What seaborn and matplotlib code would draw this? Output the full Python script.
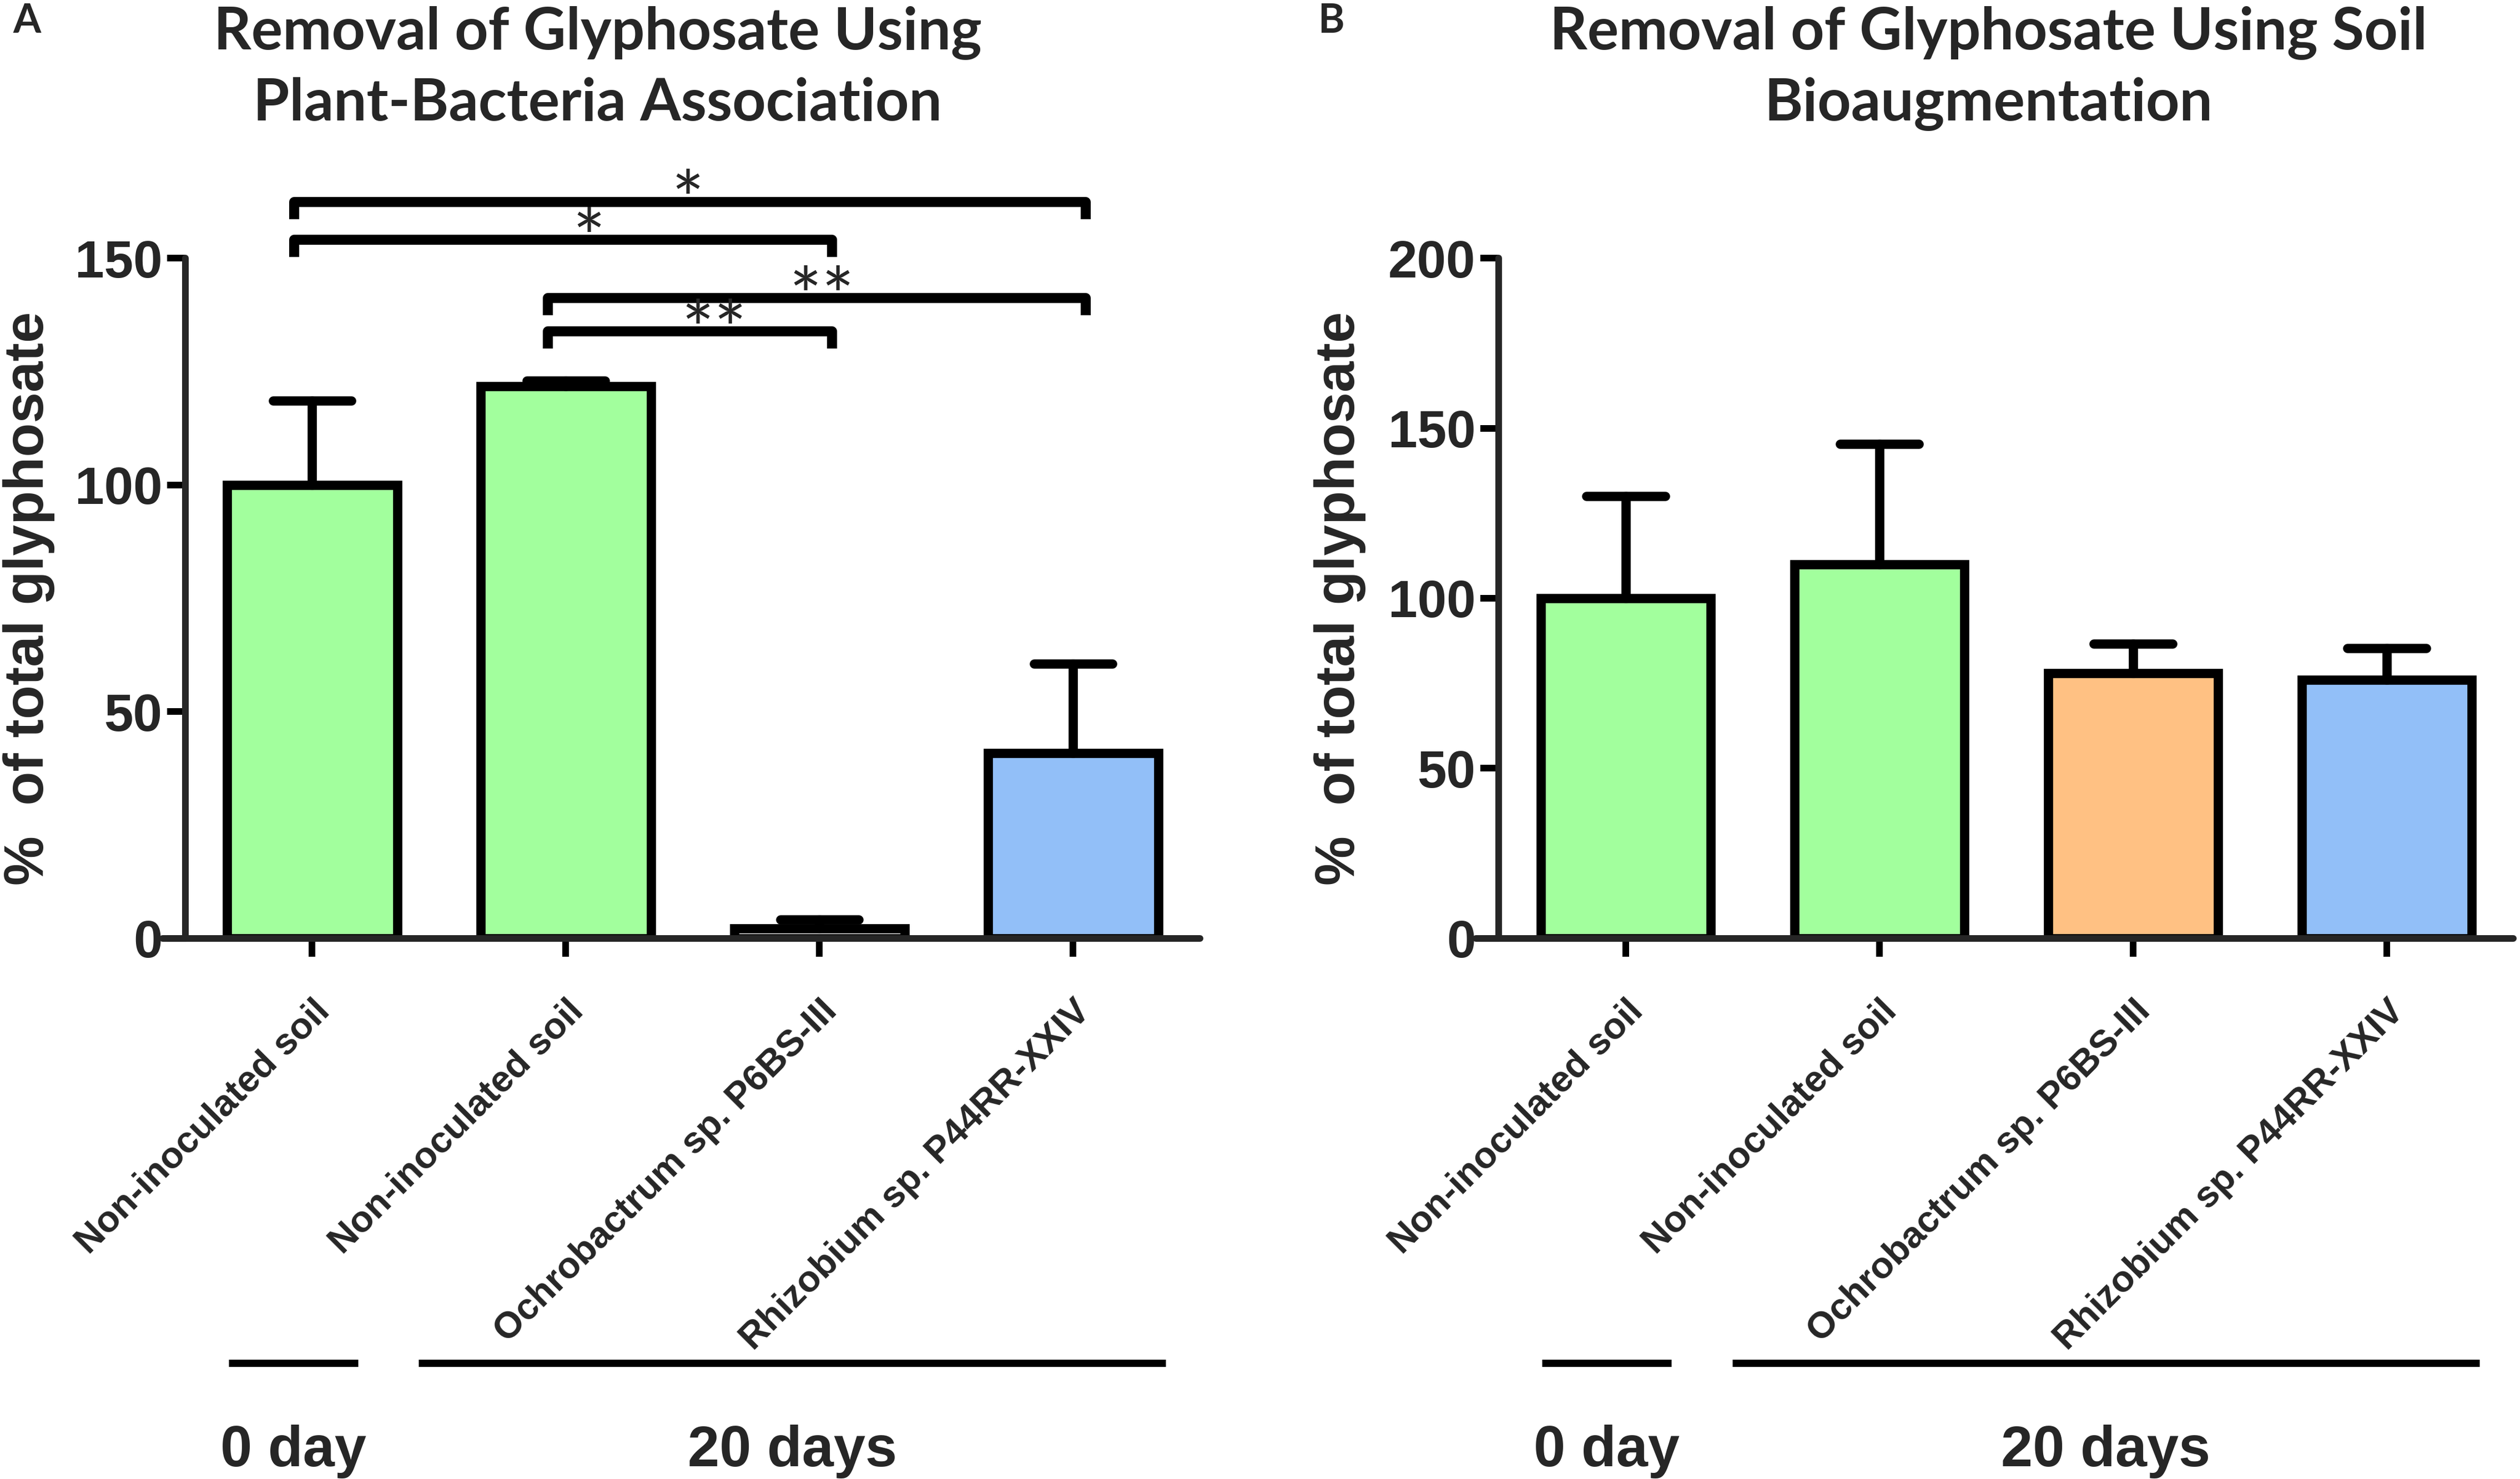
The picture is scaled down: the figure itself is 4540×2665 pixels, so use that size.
import numpy as np
import pandas as pd
import seaborn as sns
import matplotlib.pyplot as plt
import matplotlib.transforms as mtransforms

# data
labels = ["Non-inoculated soil", "Non-inoculated soil",
          "Ochrobactrum sp. P6BS-III", "Rhizobium sp. P44RR-XXIV"]

plant_mean = [100.0, 121.8, 2.2, 40.9]
plant_err = [18.6, 1.2, 2.0, 19.6]
plant_colors = ["#A2FF9D", "#A2FF9D", "#FFFFFF", "#92BFF8"]

soil_mean = [100.0, 110.0, 78.0, 76.0]
soil_err = [30.0, 35.4, 8.6, 9.3]
soil_colors = ["#A2FF9D", "#A2FF9D", "#FFC183", "#92BFF8"]

# significance brackets (panel A), bar indices
bracket_left = [0, 0, 1, 1]
bracket_right = [3, 2, 3, 2]
bracket_y = [162.4, 154.0, 141.2, 133.8]
bracket_text = ["*", "*", "**", "**"]
star_x = [1.48, 1.09, 2.01, 1.585]

# time groups under the x axis (in bar units)
group_names = ["0 day", "20 days"]
group_start = [-0.33, 0.42]
group_end = [0.18, 3.365]

titles = ["Removal of Glyphosate Using\nPlant-Bacteria Association",
          "Removal of Glyphosate Using Soil\nBioaugmentation"]

sns.set_theme(style="ticks")
plt.rcParams["font.family"] = ["Liberation Sans", "DejaVu Sans"]

fig = plt.figure(figsize=(22.7, 13.325), dpi=200)
axA = fig.add_axes([0.0645, 0.3655, 0.4117, 0.46])
axB = fig.add_axes([0.5857, 0.3655, 0.4117, 0.46])

LW = 6
label_shift = mtransforms.ScaledTranslation(-8 / 72, 0, fig.dpi_scale_trans)


def draw_panel(ax, means, errs, colors, ymax, step):
    keys = ["c%d" % i for i in range(len(means))]
    df = pd.DataFrame({"key": keys, "val": means})
    sns.barplot(data=df, x="key", y="val", hue="key",
                palette=dict(zip(keys, colors)), legend=False,
                width=0.67, edgecolor="black", linewidth=LW,
                saturation=1, errorbar=None, ax=ax)
    pos = np.arange(len(means))
    top = np.array(means) + np.array(errs)
    ax.vlines(pos, means, top, colors="black", linewidth=LW,
              capstyle="round", zorder=3)
    ax.hlines(top, pos - 0.155, pos + 0.155, colors="black",
              linewidth=LW, capstyle="round", zorder=3)

    ax.set_xlim(-0.59, 3.5)
    ax.set_ylim(0, ymax)
    sns.despine(ax=ax)
    ax.spines["left"].set_position(("data", -0.5))
    for s in ["left", "bottom"]:
        ax.spines[s].set_linewidth(4.3)
        ax.spines[s].set_capstyle("round")
    ax.set_yticks(np.arange(0, ymax + 1, step))
    ax.set_yticklabels([str(v) for v in np.arange(0, ymax + 1, step)],
                       fontsize=34, fontweight="bold")
    ax.set_xticks(pos)
    ax.set_xticklabels(labels, rotation=45, ha="right", va="top",
                       rotation_mode="anchor", fontsize=24,
                       fontweight="bold")
    for t in ax.get_xticklabels():
        t.set_transform(t.get_transform() + label_shift)
    ax.tick_params(axis="both", width=4.3, length=12, direction="out",
                   color="black")
    ax.tick_params(axis="y", pad=3)
    ax.tick_params(axis="x", pad=24)
    ax.set_xlabel("")
    ax.set_ylabel("")

    # time groups
    trans = mtransforms.blended_transform_factory(ax.transData, ax.transAxes)
    for name, s, e in zip(group_names, group_start, group_end):
        ax.plot([s, e], [-0.624, -0.624], color="black", lw=4.7,
                transform=trans, clip_on=False, solid_capstyle="butt")
        ax.text((s + e) / 2, -0.776, name, transform=trans, ha="center",
                va="baseline", fontsize=37, fontweight="bold")


draw_panel(axA, plant_mean, plant_err, plant_colors, 150, 50)
draw_panel(axB, soil_mean, soil_err, soil_colors, 200, 50)

# significance brackets on panel A
for l, r, y, t, sx in zip(bracket_left, bracket_right, bracket_y,
                          bracket_text, star_x):
    x0, x1 = l - 0.07, r + 0.05
    axA.plot([x0, x0, x1, x1], [y - 3.8, y, y, y - 3.8], color="black",
             lw=6.5, clip_on=False, solid_joinstyle="round",
             solid_capstyle="butt")
    axA.text(sx, y - 5.6, t, ha="center", va="baseline", fontsize=50,
             family=["Lato", "DejaVu Sans"], clip_on=False)

# titles (baseline of the last line), panel letters, y labels
fig.text(0.2372, 0.9186, titles[0], ha="center", va="baseline", fontsize=38,
         fontweight="bold", family=["Lato", "DejaVu Sans"], linespacing=1.4)
fig.text(0.789, 0.9186, titles[1], ha="center", va="baseline", fontsize=38,
         fontweight="bold", family=["Lato", "DejaVu Sans"], linespacing=1.4)
fig.text(0.0051, 0.978, "A", ha="left", va="baseline", fontsize=26,
         fontweight="bold", family=["Lato", "DejaVu Sans"])
fig.text(0.5229, 0.978, "B", ha="left", va="baseline", fontsize=26,
         fontweight="bold", family=["Lato", "DejaVu Sans"])
fig.text(0.01145, 0.5955, "%  of total glyphosate", rotation=90, ha="center",
         va="center", fontsize=36, fontweight="bold")
fig.text(0.5317, 0.5955, "%  of total glyphosate", rotation=90, ha="center",
         va="center", fontsize=36, fontweight="bold")

fig.savefig("out.png", dpi=200, facecolor="white")
